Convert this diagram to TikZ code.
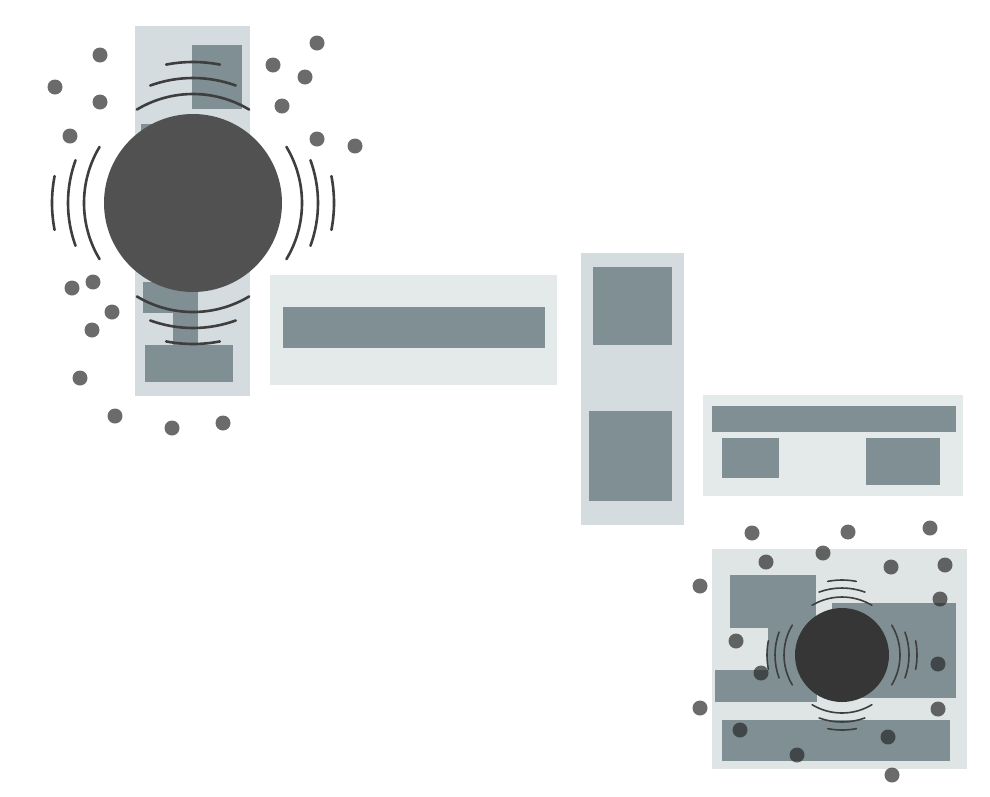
\documentclass[tikz,border=0pt]{standalone}
\begin{document}
\begin{tikzpicture}[x=1pt,y=1pt,
  panelA/.style={fill=panelAc,draw=none},
  panelB/.style={fill=panelBc,draw=none},
  blockr/.style={fill=blockc,draw=none},
  dot/.style={fill=dotc,fill opacity=0.68,draw=none},
  wavebig/.style={draw=wavec,line width=2.6pt,line cap=round},
  wavesmall/.style={draw=wavec,line width=1.6pt,line cap=round}]
\definecolor{panelAc}{HTML}{E4E9EA}
\definecolor{panelBc}{HTML}{D5DCDF}
\definecolor{panelCc}{HTML}{DFE4E5}
\definecolor{blockc}{HTML}{7F8F94}
\definecolor{dotc}{HTML}{252525}
\definecolor{wavec}{HTML}{3E3E3E}
\definecolor{bigc}{HTML}{515151}
\definecolor{smallc}{HTML}{363636}
\useasboundingbox[fill=white] (0,0) rectangle (990,-796);

% ---------- top-left group ----------
\fill[panelB] (135,-26) rectangle (250,-396);
\fill[blockr] (192,-45) rectangle (242,-109);
\fill[blockr] (141,-124) rectangle (200,-140);
\fill[blockr] (143,-282) rectangle (198,-313);
\fill[blockr] (173,-313) rectangle (198,-345);
\fill[blockr] (145,-345) rectangle (233,-382);
\coordinate (C1) at (193,-203);
\fill[bigc] (C1) circle[radius=89pt];
\foreach \d in {0,90,180,270}{
  \foreach \r/\s in {109/31,125/20,141/11}{
    \draw[wavebig] ([shift={(\d-\s:\r pt)}]C1) arc[start angle=\d-\s, end angle=\d+\s, radius=\r pt];
  }
}

% ---------- middle panels ----------
\fill[panelA] (270,-275) rectangle (557,-385);
\fill[blockr] (283,-307) rectangle (545,-348);
\fill[panelB] (581,-253) rectangle (684,-525);
\fill[blockr] (593,-267) rectangle (672,-345);
\fill[blockr] (589,-411) rectangle (672,-501);
\fill[panelA] (703,-395) rectangle (963,-496);
\fill[blockr] (712,-406) rectangle (956,-432);
\fill[blockr] (722,-438) rectangle (779,-478);
\fill[blockr] (866,-438) rectangle (940,-485);

% ---------- bottom-right group ----------
\fill[panelCc] (712,-549) rectangle (967,-769);
\fill[blockr] (730,-575) rectangle (816,-628);
\fill[blockr] (768,-620) rectangle (822,-690);
\fill[blockr] (715,-670) rectangle (817,-702);
\fill[blockr] (832,-603) rectangle (956,-698);
\fill[blockr] (722,-720) rectangle (950,-761);
\coordinate (C2) at (842,-655);
\fill[smallc] (C2) circle[radius=47pt];
\foreach \d in {0,90,180,270}{
  \foreach \r/\s in {58/31,67/20,75/11}{
    \draw[wavesmall] ([shift={(\d-\s:\r pt)}]C2) arc[start angle=\d-\s, end angle=\d+\s, radius=\r pt];
  }
}

% ---------- dots ----------
\foreach \x/\y in {100/55,55/87,100/102,70/136,317/43,273/65,305/77,282/106,
  317/139,355/146,72/288,93/282,112/312,92/330,80/378,115/416,172/428,223/423,
  752/533,848/532,930/528,766/562,823/553,891/567,945/565,700/586,940/599,
  736/641,938/664,761/673,700/708,938/709,740/730,888/737,797/755,892/775}{
  \fill[dot] (\x,-\y) circle[radius=7.5pt];
}
\end{tikzpicture}
\end{document}
